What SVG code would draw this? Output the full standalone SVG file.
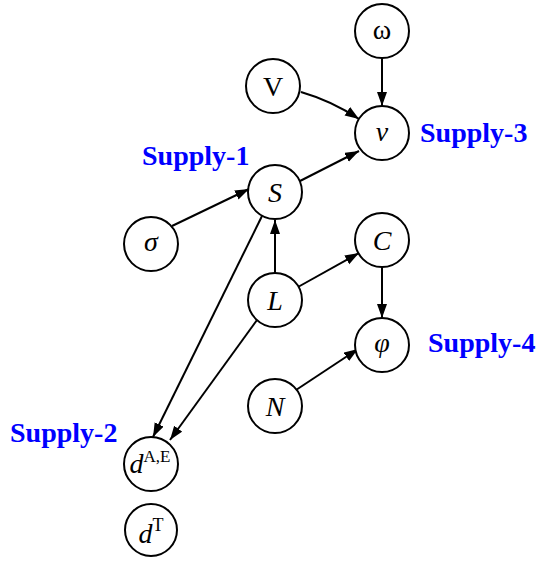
<svg xmlns="http://www.w3.org/2000/svg" width="539" height="561" viewBox="0 0 539 561">
<defs>
<marker id="ah" markerUnits="userSpaceOnUse" markerWidth="15" markerHeight="11" refX="14" refY="5" orient="auto">
<path d="M0,0 L14,5 L0,10 z" fill="#000"/>
</marker>
<style>
.n{fill:#fff;stroke:#000;stroke-width:2}
.t{font-family:"Liberation Serif","Times New Roman",serif;font-size:28px;fill:#000;text-anchor:middle}
.i{font-style:italic}
.lbl{font-family:"Liberation Serif","Times New Roman",serif;font-size:28px;font-weight:bold;fill:#0000ff}
.e{fill:none;stroke:#000;stroke-width:2;marker-end:url(#ah)}
</style>
</defs>
<rect width="539" height="561" fill="#fff"/>
<g id="connectors">
<path class="e" d="M382,58 L382,106"/>
<path class="e" d="M301,92 Q332,101 359,119"/>
<path class="e" d="M300,181 L359,151"/>
<path class="e" d="M172,226 L249,189"/>
<path class="e" d="M275,273 L275,220"/>
<path class="e" d="M298,287 L359,253"/>
<path class="e" d="M382,267 L382,318"/>
<path class="e" d="M296,390 L358,349"/>
<path class="e" d="M262,216 L153,437"/>
<path class="e" d="M257,320 L170,440"/>
</g>
<g id="node-omega"><circle class="n" cx="382" cy="31" r="27"/><text class="t" x="382" y="39">ω</text></g>
<g id="node-V"><circle class="n" cx="273" cy="86" r="27"/><text class="t" x="273" y="96">V</text></g>
<g id="node-v"><circle class="n" cx="382" cy="133" r="27"/><text class="t i" x="382" y="141">v</text></g>
<g id="node-S"><circle class="n" cx="275" cy="192" r="27"/><text class="t i" x="275" y="202">S</text></g>
<g id="node-sigma"><circle class="n" cx="151" cy="244" r="27"/><text class="t i" x="151" y="251">σ</text></g>
<g id="node-C"><circle class="n" cx="382" cy="240" r="27"/><text class="t i" x="382" y="250">C</text></g>
<g id="node-L"><circle class="n" cx="275" cy="300" r="27"/><text class="t i" x="275" y="310">L</text></g>
<g id="node-phi"><circle class="n" cx="382" cy="345" r="27"/><text class="t i" x="382" y="352">φ</text></g>
<g id="node-N"><circle class="n" cx="275" cy="406" r="27"/><text class="t i" x="275" y="416">N</text></g>
<g id="node-dAE"><circle class="n" cx="151" cy="464" r="27"/><text class="t" x="150" y="473"><tspan class="i">d</tspan><tspan font-size="17" dy="-11">A,E</tspan></text></g>
<g id="node-dT"><circle class="n" cx="151" cy="530" r="26"/><text class="t" x="151" y="543"><tspan class="i">d</tspan><tspan font-size="18" dy="-12">T</tspan></text></g>
<g id="labels">
<text class="lbl" x="142" y="165">Supply-1</text>
<text class="lbl" x="420" y="142">Supply-3</text>
<text class="lbl" x="428" y="352">Supply-4</text>
<text class="lbl" x="10" y="442">Supply-2</text>
</g>
</svg>
